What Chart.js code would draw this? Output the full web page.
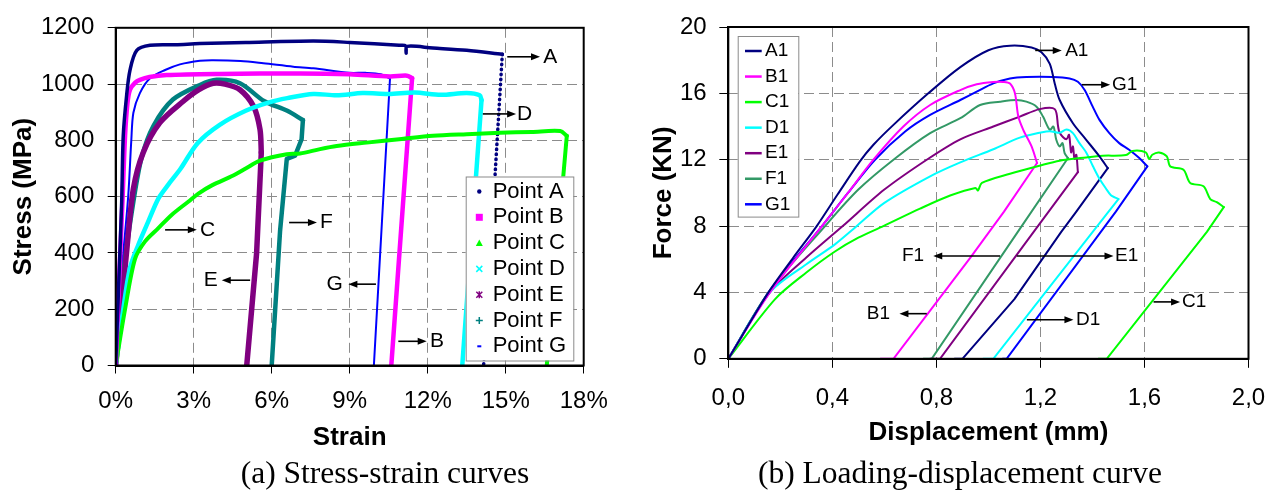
<!DOCTYPE html>
<html><head><meta charset="utf-8">
<script src="https://cdn.jsdelivr.net/npm/chart.js@4.4.1/dist/chart.umd.min.js"></script>
<style>
html,body{margin:0;padding:0;background:#fff;width:1284px;height:491px;overflow:hidden;position:relative;}
#c1{position:absolute;left:0;top:0;}
#c2{position:absolute;left:640px;top:0;}
.cap{position:absolute;top:453px;font-family:'Liberation Serif','Times New Roman',serif;font-size:31.5px;color:#000;white-space:nowrap;transform:translateX(-50%);line-height:40px;}
</style></head><body>
<canvas id="c1" width="640" height="491" style="width:640px;height:491px"></canvas>
<canvas id="c2" width="644" height="491" style="width:644px;height:491px"></canvas>
<div class="cap" style="left:385px">(a) Stress-strain curves</div>
<div class="cap" style="left:960px">(b) Loading-displacement curve</div>
<script>
// ---------- (a) Stress-strain data (strain %, stress MPa) ----------
const strainTicks = [0, 3, 6, 9, 12, 15, 18];
const stressTicks = [0, 200, 400, 600, 800, 1000, 1200];
const pointLabels = ['Point A','Point B','Point C','Point D','Point E','Point F','Point G'];

const strainA = [0, 0.12, 0.23, 0.29, 0.42, 0.55, 0.81, 1.32, 2.3, 3.24, 5.0, 7.6, 9.0, 10.9, 11.15, 11.17, 11.2, 12.2, 13.5, 14.87, 14.15];
const stressA = [0, 300, 582, 816, 960, 1050, 1120, 1138, 1140, 1144, 1148, 1153, 1148, 1138, 1136, 1110, 1134, 1128, 1120, 1106, 0];
const strainB = [0, 0.13, 0.26, 0.36, 0.45, 0.55, 0.75, 0.93, 1.3, 1.96, 4.0, 7.09, 9.0, 10.55, 11.2, 11.4, 10.6];
const stressB = [0, 300, 582, 816, 930, 980, 1005, 1015, 1025, 1032, 1036, 1038, 1035, 1027, 1030, 1021, 0];
const strainC = [0, 0.36, 0.74, 1.13, 1.64, 2.15, 2.79, 3.18, 3.7, 4.52, 5.0, 5.55, 6.58, 7.09, 7.86, 8.5, 9.65, 11.0, 12.2, 13.5, 14.78, 16.0, 17.1, 17.35, 16.58];
const stressC = [0, 200, 378, 441, 488, 535, 582, 611, 640, 675, 700, 728, 751, 753, 769, 780, 792, 805, 816, 822, 827, 830, 833, 816, 0];
const strainD = [0, 0.29, 0.55, 0.87, 1.25, 1.64, 2.0, 2.5, 3.15, 4.0, 5.0, 5.9, 6.6, 7.6, 8.5, 9.5, 10.5, 11.5, 12.5, 13.5, 14.0, 14.07, 13.33];
const stressD = [0, 200, 347, 429, 511, 593, 640, 700, 790, 855, 905, 935, 950, 965, 960, 968, 965, 970, 962, 968, 960, 943, 0];
const strainE = [0, 0.42, 0.68, 1.06, 1.7, 2.6, 3.2, 3.75, 4.2, 4.78, 5.3, 5.55, 5.6, 5.42, 5.04];
const stressE = [0, 405, 628, 757, 863, 939, 980, 1003, 1000, 980, 921, 839, 757, 400, 0];
const strainF = [0, 0.3, 0.68, 1.0, 1.45, 2.2, 3.24, 3.88, 4.78, 5.7, 6.6, 7.2, 7.15, 6.9, 6.58, 6.32, 6.0];
const stressF = [0, 330, 582, 740, 851, 945, 997, 1015, 1003, 940, 905, 872, 804, 746, 734, 476, 0];
const strainG = [0, 0.2, 0.48, 0.6, 0.68, 0.93, 1.32, 1.9, 2.47, 3.24, 3.75, 4.8, 5.68, 6.83, 7.6, 9.0, 9.6, 10.2, 10.55, 9.93];
const stressG = [0, 300, 600, 800, 898, 968, 1021, 1050, 1070, 1083, 1085, 1082, 1074, 1062, 1056, 1040, 1040, 1035, 1020, 0];

// ---------- (b) Force-displacement data (mm, kN) ----------
const dispTicks = [0, 0.4, 0.8, 1.2, 1.6, 2.0];
const forceTicks = [0, 4, 8, 12, 16, 20];
const curveLabels = ['A1','B1','C1','D1','E1','F1','G1'];

const dispA1 = [0, 0.15, 0.25, 0.34, 0.42, 0.506, 0.558, 0.635, 0.769, 0.892, 1.0, 1.083, 1.166, 1.204, 1.236, 1.255, 1.274, 1.325, 1.376, 1.427, 1.459, 1.338, 1.28, 1.1, 0.9, 0.87];
const forceA1 = [0, 3.9, 6.1, 8, 9.9, 11.9, 12.9, 14.1, 16, 17.58, 18.6, 18.87, 18.77, 18.48, 17.78, 16.6, 15.6, 14.2, 13.2, 12.2, 11.49, 8.87, 7.65, 3.6, 0, 0];
const dispB1 = [0, 0.16, 0.36, 0.46, 0.558, 0.673, 0.776, 0.892, 0.955, 1.019, 1.057, 1.083, 1.102, 1.115, 1.134, 1.166, 1.187, 1.06, 0.93, 0.635, 0.585];
const forceB1 = [0, 4, 8, 10, 12, 14, 15.3, 16.2, 16.55, 16.69, 16.69, 16.59, 16.0, 14.6, 13.8, 12.8, 11.8, 8.87, 6.08, 0, 0];
const dispC1 = [0, 0.18, 0.3, 0.41, 0.5, 0.596, 0.737, 0.853, 0.95, 0.96, 0.975, 1.083, 1.197, 1.274, 1.376, 1.439, 1.529, 1.554, 1.605, 1.618, 1.63, 1.656, 1.686, 1.699, 1.75, 1.776, 1.827, 1.853, 1.878, 1.905, 1.84, 1.455, 1.423];
const forceC1 = [0, 3.6, 5.2, 6.47, 7.3, 8, 9.05, 9.84, 10.3, 10.15, 10.6, 11.15, 11.64, 11.94, 12.14, 12.24, 12.28, 12.53, 12.44, 12.04, 12.3, 12.44, 12.2, 11.6, 11.4, 10.6, 10.4, 9.63, 9.44, 9.14, 7.65, 0, 0];
const dispD1 = [0, 0.16, 0.3, 0.41, 0.49, 0.6, 0.776, 0.892, 1.019, 1.121, 1.197, 1.236, 1.274, 1.3, 1.325, 1.35, 1.376, 1.401, 1.427, 1.452, 1.471, 1.49, 1.5, 1.462, 1.019, 0.98];
const forceD1 = [0, 4, 5.7, 6.9, 7.95, 9.4, 11.0, 11.84, 12.63, 13.33, 13.62, 13.72, 13.62, 13.82, 13.6, 13.0, 12.44, 11.64, 10.85, 10.26, 9.86, 9.7, 9.63, 8.87, 0, 0];
const dispE1 = [0, 0.16, 0.3, 0.44, 0.6, 0.763, 0.892, 1.019, 1.121, 1.197, 1.255, 1.268, 1.274, 1.3, 1.31, 1.318, 1.325, 1.331, 1.338, 1.344, 1.174, 0.814, 0.776];
const forceE1 = [0, 4, 6.1, 8, 10.2, 12, 13.23, 14.0, 14.6, 15.05, 15.05, 14.0, 13.62, 13.23, 13.5, 12.44, 12.8, 12.04, 12.3, 11.25, 7.65, 0, 0];
const dispF1 = [0, 0.155, 0.372, 0.5, 0.635, 0.776, 0.892, 0.968, 1.045, 1.108, 1.146, 1.185, 1.21, 1.236, 1.25, 1.261, 1.274, 1.285, 1.293, 1.306, 1.113, 0.782, 0.75];
const forceF1 = [0, 4, 8, 10.2, 12, 13.6, 14.5, 15.3, 15.5, 15.6, 15.5, 15.2, 14.6, 13.8, 14.0, 13.2, 12.8, 13.0, 12.4, 12.1, 7.65, 0, 0];
const dispG1 = [0, 0.155, 0.36, 0.46, 0.564, 0.68, 0.776, 0.892, 0.955, 1.019, 1.083, 1.146, 1.248, 1.312, 1.344, 1.37, 1.401, 1.427, 1.465, 1.503, 1.541, 1.58, 1.611, 1.49, 1.07, 1.055];
const forceG1 = [0, 4, 8, 10, 12, 13.7, 14.7, 15.6, 16.1, 16.6, 16.9, 16.99, 16.99, 16.9, 16.7, 16.2, 15.2, 14.4, 13.6, 13.0, 12.6, 12.1, 11.6, 8.87, 0, 0];

// ---------- annotation labels (data units) ----------
const notesA = [
  {label:'A', from:15.06, to:16.32, at:1097, textAt:16.44},
  {label:'D', from:14.12, to:15.40, at:894, textAt:15.43},
  {label:'C', from:1.90, to:3.12, at:482, textAt:3.24},
  {label:'F', from:6.67, to:7.74, at:508, textAt:7.86},
  {label:'E', from:5.17, to:4.08, at:303, textAt:3.93},
  {label:'G', from:10.01, to:8.95, at:289, textAt:8.74},
  {label:'B', from:10.87, to:11.96, at:86, textAt:12.09}
];
const notesB = [
  {label:'A1', from:1.18, to:1.282, at:18.59, textAt:1.295},
  {label:'G1', from:1.359, to:1.468, at:16.52, textAt:1.475},
  {label:'F1', from:1.045, to:0.788, at:6.2, textAt:0.753},
  {label:'E1', from:1.109, to:1.481, at:6.2, textAt:1.487},
  {label:'B1', from:0.763, to:0.658, at:2.72, textAt:0.622},
  {label:'D1', from:1.148, to:1.327, at:2.35, textAt:1.337},
  {label:'C1', from:1.635, to:1.737, at:3.43, textAt:1.744}
];

const FONT = "'Liberation Sans', Arial, Helvetica, sans-serif";
Chart.defaults.font.family = FONT;
Chart.defaults.color = '#000';

const pts = (xs, ys) => xs.map((x, i) => ({x: x, y: ys[i]}));
const argMax = arr => arr.reduce((bi, v, i) => v > arr[bi] ? i : bi, 0);

// Each curve: smooth loading branch up to the fracture point (largest x), straight unloading branch after it.
function buildDatasets(series, labels, baseOpts) {
  const main = [], tails = [];
  series.forEach((s, i) => {
    const k = argMax(s.x);
    const all = pts(s.x, s.y);
    main.push(Object.assign({}, baseOpts, {
      label: labels[i], data: all.slice(0, k + 1),
      borderColor: s.color, backgroundColor: s.color, borderWidth: s.w, tension: 0.3
    }));
    tails.push(Object.assign({}, baseOpts, {
      label: labels[i], isTail: true, data: all.slice(k),
      borderColor: s.color, backgroundColor: s.color, borderWidth: s.w, tension: 0,
      borderDash: s.dotTail ? [0.5, 4.5] : []
    }));
  });
  return main.concat(tails);
}

function drawMarker(ctx, kind, x, y, color) {
  ctx.save();
  ctx.fillStyle = color; ctx.strokeStyle = color; ctx.lineWidth = 1.5;
  ctx.beginPath();
  if (kind === 'dot') { ctx.arc(x, y, 2.2, 0, Math.PI * 2); ctx.fill(); }
  else if (kind === 'square') { ctx.fillRect(x - 3.5, y - 3.5, 7, 7); }
  else if (kind === 'triangle') { ctx.moveTo(x, y - 3.5); ctx.lineTo(x + 3.5, y + 3); ctx.lineTo(x - 3.5, y + 3); ctx.closePath(); ctx.fill(); }
  else if (kind === 'cross') { ctx.moveTo(x - 3, y - 3); ctx.lineTo(x + 3, y + 3); ctx.moveTo(x + 3, y - 3); ctx.lineTo(x - 3, y + 3); ctx.stroke(); }
  else if (kind === 'star') { ctx.moveTo(x - 3, y - 3); ctx.lineTo(x + 3, y + 3); ctx.moveTo(x + 3, y - 3); ctx.lineTo(x - 3, y + 3); ctx.moveTo(x, y - 3.5); ctx.lineTo(x, y + 3.5); ctx.stroke(); }
  else if (kind === 'plus') { ctx.moveTo(x - 3.5, y); ctx.lineTo(x + 3.5, y); ctx.moveTo(x, y - 3.5); ctx.lineTo(x, y + 3.5); ctx.stroke(); }
  else if (kind === 'dash') { ctx.fillRect(x - 2, y - 1, 4, 2); }
  ctx.restore();
}

const annotPlugin = {
  id: 'annot',
  afterDatasetsDraw(chart, args, opts) {
    const ctx = chart.ctx, ca = chart.chartArea;
    const xs = chart.scales.x, ys = chart.scales.y;
    ctx.save();
    ctx.strokeStyle = '#000'; ctx.lineWidth = 2;
    ctx.strokeRect(ca.left, ca.top, ca.right - ca.left, ca.bottom - ca.top);
    ctx.fillStyle = '#000'; ctx.strokeStyle = '#000'; ctx.lineWidth = 1.6;
    ctx.font = opts.noteFont; ctx.textBaseline = 'middle';
    for (const n of opts.notes) {
      const a = xs.getPixelForValue(n.from), b = xs.getPixelForValue(n.to), y = ys.getPixelForValue(n.at);
      const dir = Math.sign(b - a);
      ctx.beginPath(); ctx.moveTo(a, y); ctx.lineTo(b - dir * 6, y); ctx.stroke();
      ctx.beginPath(); ctx.moveTo(b, y); ctx.lineTo(b - dir * 9, y - 3.5); ctx.lineTo(b - dir * 9, y + 3.5); ctx.closePath(); ctx.fill();
      ctx.textAlign = dir > 0 ? 'left' : 'right';
      ctx.fillText(n.label, xs.getPixelForValue(n.textAt), y);
    }
    const L = opts.legend;
    const bx = L.fromRight ? ca.right - L.dx : ca.left + L.dx;
    const by = ca.top + L.dy;
    ctx.fillStyle = '#fff'; ctx.fillRect(bx, by, L.w, L.h);
    ctx.strokeStyle = '#8a8a8a'; ctx.lineWidth = 1; ctx.strokeRect(bx + 0.5, by + 0.5, L.w, L.h);
    ctx.font = L.font; ctx.textAlign = 'left'; ctx.textBaseline = 'middle';
    chart.data.datasets.filter(ds => !ds.isTail).forEach((ds, i) => {
      const ry = by + L.row0 + i * L.rowGap;
      if (L.kind === 'marker') {
        drawMarker(ctx, L.markers[i], bx + L.mx, ry, ds.borderColor);
      } else {
        ctx.strokeStyle = ds.borderColor; ctx.lineWidth = 2.5;
        ctx.beginPath(); ctx.moveTo(bx + L.lx1, ry); ctx.lineTo(bx + L.lx2, ry); ctx.stroke();
      }
      ctx.fillStyle = '#000';
      ctx.fillText(ds.label, bx + L.tx, ry);
    });
    ctx.restore();
  }
};

function gridColor(max) {
  return c => (c.tick && (Math.abs(c.tick.value) < 1e-9 || Math.abs(c.tick.value - max) < 1e-9)) ? 'rgba(0,0,0,0)' : '#8c8c8c';
}

const lineBase = {showLine: true, pointRadius: 0, borderJoinStyle: 'round', borderCapStyle: 'round'};

// ---------- chart (a) ----------
const seriesA = [
  {x: strainA, y: stressA, color: '#000080', w: 3.5, dotTail: true},
  {x: strainB, y: stressB, color: '#ff00ff', w: 4.5},
  {x: strainC, y: stressC, color: '#00ff00', w: 4},
  {x: strainD, y: stressD, color: '#00ffff', w: 4.5},
  {x: strainE, y: stressE, color: '#800080', w: 5.5},
  {x: strainF, y: stressF, color: '#008080', w: 4.5},
  {x: strainG, y: stressG, color: '#0000ff', w: 2}
];

new Chart(document.getElementById('c1'), {
  type: 'scatter',
  data: {datasets: buildDatasets(seriesA, pointLabels, lineBase)},
  options: {
    responsive: false, animation: false, devicePixelRatio: 1,
    layout: {padding: {left: 0, right: 56.3, top: 24, bottom: 36}},
    plugins: {
      legend: {display: false}, tooltip: {enabled: false},
      annot: {
        notes: notesA, noteFont: '21px ' + FONT,
        legend: {kind: 'marker', fromRight: true, dx: 118, dy: 148.7, w: 107.6, h: 184, row0: 15, rowGap: 25.8, mx: 13.6, tx: 27,
                 font: '22px ' + FONT, markers: ['dot','square','triangle','cross','star','plus','dash']}
      }
    },
    scales: {
      x: {
        type: 'linear', min: strainTicks[0], max: strainTicks[strainTicks.length - 1],
        afterFit: s => { s.height = 89.5; },
        afterBuildTicks: s => { s.ticks = strainTicks.map(v => ({value: v})); },
        ticks: {callback: v => v + '%', font: {size: 24}, padding: 13.7, maxRotation: 0, autoSkip: false, color: '#000'},
        grid: {color: gridColor(18), tickColor: '#000', tickLength: 8, lineWidth: 1},
        border: {display: true, color: '#000', width: 2, dash: [10, 5]},
        title: {display: true, text: 'Strain', font: {size: 26, weight: 'bold'}, padding: {top: 0, bottom: 1.9}, color: '#000'}
      },
      y: {
        type: 'linear', min: stressTicks[0], max: stressTicks[stressTicks.length - 1],
        afterFit: s => { s.width = 115.7; },
        afterBuildTicks: s => { s.ticks = stressTicks.map(v => ({value: v})); },
        ticks: {callback: v => String(v), font: {size: 24}, padding: 13.4, autoSkip: false, color: '#000'},
        grid: {color: gridColor(1200), tickColor: '#000', tickLength: 8, lineWidth: 1},
        border: {display: true, color: '#000', width: 2, dash: [10, 5]},
        title: {display: true, text: 'Stress (MPa)', font: {size: 26, weight: 'bold'}, padding: {top: 8, bottom: 0}, color: '#000'}
      }
    }
  },
  plugins: [annotPlugin]
});

// ---------- chart (b) ----------
const seriesB = [
  {x: dispA1, y: forceA1, color: '#000080', w: 2},
  {x: dispB1, y: forceB1, color: '#ff00ff', w: 2},
  {x: dispC1, y: forceC1, color: '#00ff00', w: 2},
  {x: dispD1, y: forceD1, color: '#00ffff', w: 2},
  {x: dispE1, y: forceE1, color: '#800080', w: 2},
  {x: dispF1, y: forceF1, color: '#339966', w: 2},
  {x: dispG1, y: forceG1, color: '#0000ff', w: 2}
];

new Chart(document.getElementById('c2'), {
  type: 'scatter',
  data: {datasets: buildDatasets(seriesB, curveLabels, lineBase)},
  options: {
    responsive: false, animation: false, devicePixelRatio: 1,
    layout: {padding: {left: 0, right: 35.5, top: 22.7, bottom: 36}},
    plugins: {
      legend: {display: false}, tooltip: {enabled: false},
      annot: {
        notes: notesB, noteFont: '19px ' + FONT,
        legend: {kind: 'line', fromRight: false, dx: 9.4, dy: 9, w: 60.6, h: 180.6, row0: 15, rowGap: 25.55, lx1: 7.3, lx2: 24, tx: 27.3,
                 font: '19px ' + FONT}
      }
    },
    scales: {
      x: {
        type: 'linear', min: dispTicks[0], max: dispTicks[dispTicks.length - 1],
        afterFit: s => { s.height = 96.2; },
        afterBuildTicks: s => { s.ticks = dispTicks.map(v => ({value: v})); },
        ticks: {callback: v => Number(v).toFixed(1).replace('.', ','), font: {size: 24}, padding: 16.4, maxRotation: 0, autoSkip: false, color: '#000'},
        grid: {color: gridColor(2), tickColor: '#000', tickLength: 9, lineWidth: 1},
        border: {display: true, color: '#000', width: 2, dash: [10, 5]},
        title: {display: true, text: 'Displacement (mm)', font: {size: 26, weight: 'bold'}, padding: {top: 0, bottom: 6.4}, color: '#000'}
      },
      y: {
        type: 'linear', min: forceTicks[0], max: forceTicks[forceTicks.length - 1],
        afterFit: s => { s.width = 88.3; },
        afterBuildTicks: s => { s.ticks = forceTicks.map(v => ({value: v})); },
        ticks: {callback: v => String(v), font: {size: 24}, padding: 12.6, autoSkip: false, color: '#000'},
        grid: {color: gridColor(20), tickColor: '#000', tickLength: 9, lineWidth: 1},
        border: {display: true, color: '#000', width: 2, dash: [10, 5]},
        title: {display: true, text: 'Force (KN)', font: {size: 26, weight: 'bold'}, padding: {top: 8, bottom: 0}, color: '#000'}
      }
    }
  },
  plugins: [annotPlugin]
});
</script>
</body></html>
